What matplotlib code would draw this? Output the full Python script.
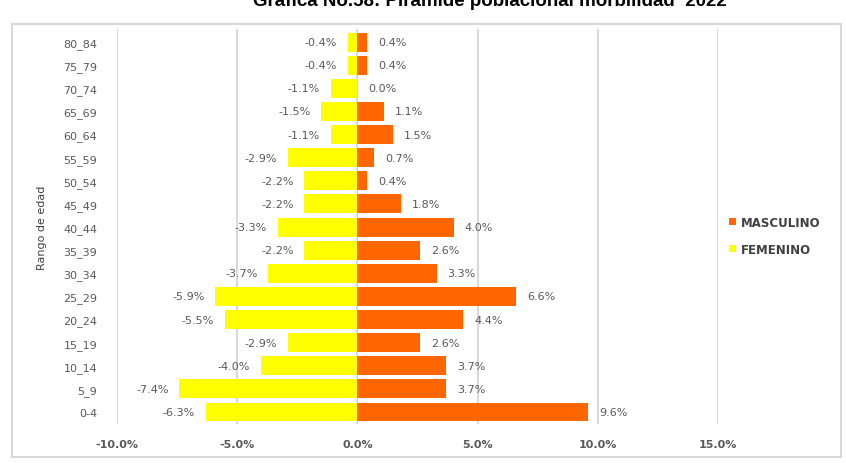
import matplotlib.pyplot as plt
from matplotlib.patches import Rectangle

# age groups, bottom to top
grupos = ['0-4', '5_9', '10_14', '15_19', '20_24', '25_29', '30_34', '35_39',
          '40_44', '45_49', '50_54', '55_59', '60_64', '65_69', '70_74', '75_79', '80_84']
masculino = [9.6, 3.7, 3.7, 2.6, 4.4, 6.6, 3.3, 2.6, 4.0, 1.8, 0.4, 0.7, 1.5, 1.1, 0.0, 0.4, 0.4]
femenino = [-6.3, -7.4, -4.0, -2.9, -5.5, -5.9, -3.7, -2.2, -3.3, -2.2, -2.2, -2.9, -1.1, -1.5, -1.1, -0.4, -0.4]
xticks = [-10, -5, 0, 5, 10, 15]

naranja = '#FF6600'
amarillo = '#FFFF00'
gris = '#595959'

fig = plt.figure(figsize=(8.46, 4.64), dpi=100)
ax = fig.add_axes([0.138, 0.084, 0.711, 0.851])

y = list(range(len(grupos)))
ax.barh(y, masculino, height=0.82, color=naranja, label='MASCULINO', zorder=2)
ax.barh(y, femenino, height=0.82, color=amarillo, label='FEMENINO', zorder=2)

# data labels
for yi, v in zip(y, masculino):
    ax.text(v + 0.45, yi, '{:.1f}%'.format(v), ha='left', va='center',
            fontsize=8, color=gris)
for yi, v in zip(y, femenino):
    ax.text(v - 0.45, yi, '{:.1f}%'.format(v), ha='right', va='center',
            fontsize=8, color=gris)

ax.set_xlim(-10, 15)
ax.set_ylim(-0.52, 16.56)
ax.set_xticks(xticks)
ax.set_xticklabels(['{:.1f}%'.format(t) for t in xticks], fontsize=8,
                   fontweight='bold', color=gris)
ax.set_yticks(y)
ax.set_yticklabels(grupos, fontsize=8, color=gris)
ax.tick_params(length=0, pad=14)
ax.tick_params(axis='x', pad=11)
ax.xaxis.grid(True, color='#D9D9D9', linewidth=1.5, zorder=0)
for s in ax.spines.values():
    s.set_visible(False)
ax.set_ylabel('Rango de edad', fontsize=8, color='#404040', labelpad=12)

leg = ax.legend(loc='center left', bbox_to_anchor=(1.0, 0.477), frameon=False,
                fontsize=8.5, handlelength=0.6, handleheight=0.6,
                handletextpad=0.4, labelspacing=1.2)
for t in leg.get_texts():
    t.set_fontweight('bold')
    t.set_color('#404040')

# outer frame of the chart image
fig.patches.append(Rectangle((0.014, 0.012), 0.98, 0.935, transform=fig.transFigure,
                             fill=False, edgecolor='#D9D9D9', linewidth=1.5))

# title, partly cut at the top edge as in the source image
fig.text(0.579, 0.988, 'Gráfica No.58: Pirámide poblacional morbilidad  2022',
         ha='center', va='baseline', fontsize=13.5, fontweight='bold',
         family='Liberation Sans')

fig.savefig('out.png', dpi=100)
